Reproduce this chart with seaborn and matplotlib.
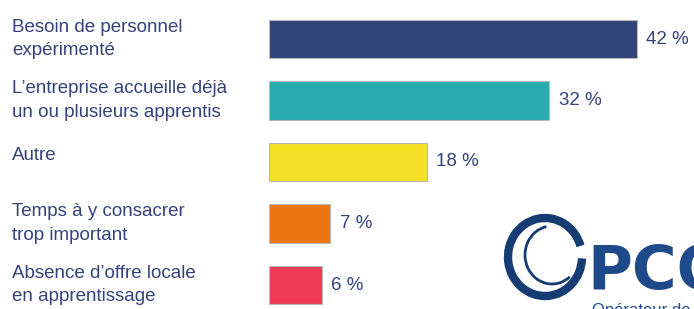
import matplotlib.pyplot as plt
import matplotlib.transforms as mtransforms
from matplotlib.patches import Arc
import seaborn as sns
import pandas as pd

categories = [
    "Besoin de personnel\nexpérimenté",
    "L\u2019entreprise accueille déjà\nun ou plusieurs apprentis",
    "Autre",
    "Temps à y consacrer\ntrop important",
    "Absence d\u2019offre locale\nen apprentissage",
]
values = [42, 32, 18, 7, 6]
colors = ["#2f4479", "#2aabb0", "#f7e027", "#eb7511", "#ef3a55"]

text_color = "#34427a"
narrow = ["Liberation Sans Narrow", "Liberation Sans", "DejaVu Sans"]

df = pd.DataFrame({"cat": categories, "val": values})

sns.set_style("white")
plt.rcParams["font.family"] = narrow

W, H = 694, 309
fig = plt.figure(figsize=(W / 100, H / 100), dpi=100)
ax = fig.add_axes([269 / W, 0, 1 - 269 / W, 1])

sns.barplot(data=df, x="val", y="cat", hue="cat", palette=colors,
            legend=False, width=0.62, edgecolor="#b8b8b8", linewidth=0.8,
            saturation=1, ax=ax)

ax.set_xlim(0, (W - 269) / 8.75)
ax.set_ylim((H - 39) / 61.5, -39 / 61.5)
ax.axis("off")

for c in ax.containers:
    ax.bar_label(c, labels=[f"{int(v)} %" for v in c.datavalues], padding=7,
                 fontsize=13.5, color=text_color)

trans = mtransforms.blended_transform_factory(fig.transFigure, ax.transData)
for i, cat in enumerate(categories):
    dy = -0.1 if "\n" not in cat else 0
    ax.text(12 / W, i + dy, cat, transform=trans, ha="left", va="center",
            fontsize=13.5, color=text_color, linespacing=1.5)

# logo (partially cropped in the reference)
logo = "#163d73"
fig.patches.append(Arc((545 / W, 1 - 257 / H), 74 / W, 78 / H, theta1=35,
                       theta2=355, transform=fig.transFigure, color=logo,
                       lw=6, figure=fig))
fig.patches.append(Arc((552 / W, 1 - 255 / H), 54 / W, 58 / H, theta1=95,
                       theta2=290, transform=fig.transFigure, color=logo,
                       lw=2, figure=fig))
fig.text(587 / W, 1 - 272 / H, "PCO", fontsize=44, fontweight="bold",
         color="#1f4a8a", va="center", ha="left", family="DejaVu Sans")
fig.text(592 / W, 1 - 318 / H, "Opérateur de", fontsize=12,
         color="#1f4a8a", va="bottom", ha="left")

fig.savefig("out.png", dpi=100)
